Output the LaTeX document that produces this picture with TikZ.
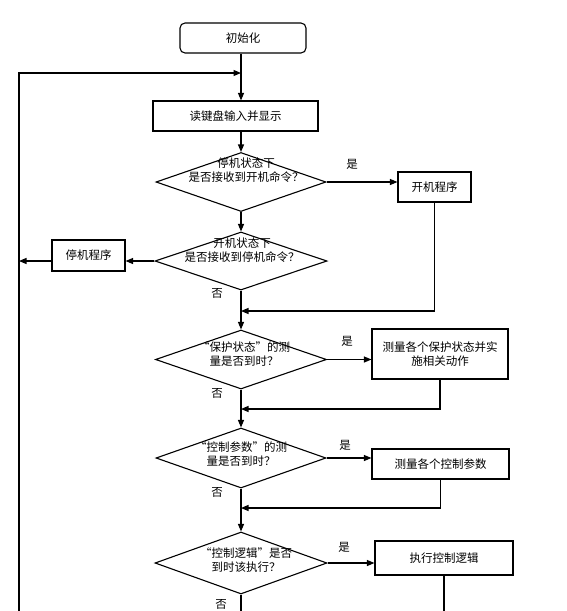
\documentclass[tikz,border=0pt]{standalone}
\usepackage{fontspec}
\setmainfont{Noto Sans CJK SC}
\usetikzlibrary{shapes.geometric,arrows.meta,calc}
\newcommand\dfont{\fontsize{11.5}{14}\selectfont}
\begin{document}
\begin{tikzpicture}[x=1pt,y=-1pt,
  proc/.style={draw, line width=1.1pt, inner sep=0pt, font=\dfont, align=center},
  dec/.style={draw, diamond, line width=1.1pt, inner sep=0pt},
  dtext/.style={align=center, font=\dfont, inner sep=0pt},
  lab/.style={font=\dfont, inner sep=0pt},
  ln/.style={line width=1.1pt},
  arr/.style={line width=1.1pt, -{Triangle[length=7.5pt,width=6pt]}}]
\useasboundingbox (0,0) rectangle (566,611);
\clip (0,0) rectangle (566,611);
\fill[white] (0,0) rectangle (566,611);

% nodes
\node[proc, rounded corners=5pt, minimum width=126pt, minimum height=30pt] (init) at (243,38) {初始化};
\node[proc, minimum width=165pt, minimum height=30pt] (read) at (235.5,116) {读键盘输入并显示};
\node[dec, minimum width=170pt, minimum height=59pt] (d1) at (241,182) {};
\node[dtext] (t1) at (246,170) {停机状态下\\是否接收到开机命令？};
\node[proc, minimum width=73pt, minimum height=30pt] (kj) at (434.5,187) {开机程序};
\node[dec, minimum width=172pt, minimum height=58pt] (d2) at (241,261) {};
\node[dtext] (t2) at (242,250) {开机状态下\\是否接收到停机命令？};
\node[proc, minimum width=73pt, minimum height=31pt] (tj) at (88.5,255.5) {停机程序};
\node[dec, minimum width=171pt, minimum height=59pt] (d3) at (241,359.5) {};
\node[dtext] (t3) at (244,354.5) {“保护状态”的测\\量是否到时？};
\node[proc, minimum width=136pt, minimum height=50pt] (b3) at (440,354) {测量各个保护状态并实\\施相关动作};
\node[dec, minimum width=170pt, minimum height=60pt] (d4) at (241,458) {};
\node[dtext] (t4) at (241,454) {“控制参数”的测\\量是否到时？};
\node[proc, minimum width=137pt, minimum height=30pt] (b4) at (440.5,464) {测量各个控制参数};
\node[dec, minimum width=172pt, minimum height=62pt] (d5) at (241,563) {};
\node[dtext] (t5) at (246,560) {“控制逻辑”是否\\到时该执行？};
\node[proc, minimum width=138pt, minimum height=34pt] (b5) at (444,558) {执行控制逻辑};

% labels
\node[lab] (y1) at (352,164) {是};
\node[lab] (y3) at (347,341) {是};
\node[lab] (y4) at (345,445) {是};
\node[lab] (y5) at (344,547) {是};
\node[lab] (n2) at (217,293) {否};
\node[lab] (n3) at (217,393) {否};
\node[lab] (n4) at (217,492) {否};
\node[lab] (n5) at (221,604) {否};

% coordinates
\coordinate (lb) at (19,620);
\coordinate (loopin) at (241,73);
\coordinate (m1) at (241,311);
\coordinate (m3) at (241,409);
\coordinate (m4) at (241,508);
\coordinate (e5) at (241,620);
\coordinate (eb5) at (441,620);

% connectors
\draw[arr] (init.south -| d2.north) -- (read.north -| d2.north);
\draw[arr] (lb) |- (loopin);
\draw[arr] (read.south -| d1.north) -- (d1.north);
\draw[arr] (d1.east) -- (d1.east -| kj.west);
\draw[arr] (d1.south) -- (d2.north);
\draw[arr] (d2.west) -- (d2.west -| tj.east);
\draw[arr] (d2.west -| tj.west) -- (d2.west -| lb);
\draw[arr] (d2.south) -- (d3.north);
\draw[arr] (kj.south) |- (m1);
\draw[arr] (d3.east) -- (d3.east -| b3.west);
\draw[arr] (b3.south) |- (m3);
\draw[arr] (d3.south) -- (d4.north);
\draw[arr] (d4.east) -- (d4.east -| b4.west);
\draw[arr] (b4.south) |- (m4);
\draw[arr] (d4.south) -- (d5.north);
\draw[arr] (d5.east) -- (d5.east -| b5.west);
\draw[ln] (b5.south) -- (b5.south |- eb5);
\draw[ln] (d5.south) -- (d5.south |- e5);
\end{tikzpicture}
\end{document}
